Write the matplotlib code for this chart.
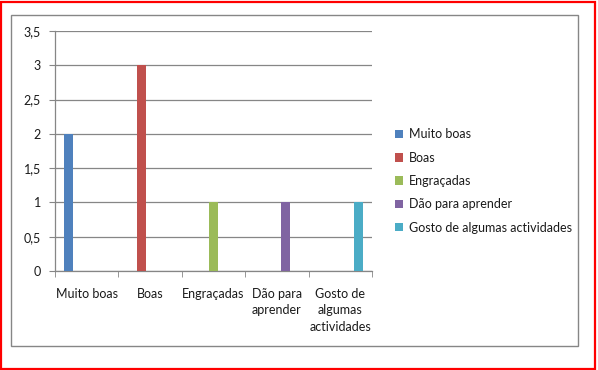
import matplotlib.pyplot as plt
from matplotlib.patches import Rectangle, Patch
import numpy as np

categories = ["Muito boas", "Boas", "Engraçadas", "Dão para\naprender",
              "Gosto de\nalgumas\nactividades"]
series_names = ["Muito boas", "Boas", "Engraçadas", "Dão para aprender",
                "Gosto de algumas actividades"]
series_values = [
    [2, 0, 0, 0, 0],
    [0, 3, 0, 0, 0],
    [0, 0, 1, 0, 0],
    [0, 0, 0, 1, 0],
    [0, 0, 0, 0, 1],
]
y_ticks = [0, 0.5, 1, 1.5, 2, 2.5, 3, 3.5]
y_labels = ["0", "0,5", "1", "1,5", "2", "2,5", "3", "3,5"]
colors = ["#4F81BD", "#C0504D", "#9BBB59", "#8064A2", "#4BACC6"]

plt.rcParams['font.family'] = ['Lato', 'DejaVu Sans']
W, H = 598, 370
fig = plt.figure(figsize=(W / 100, H / 100), dpi=100)
fs = 9
txt_c = "#1a1a1a"

# plot area in pixels
px_l, px_r, px_t, px_b = 55, 372, 31, 271
ax = fig.add_axes([px_l / W, 1 - px_b / H, (px_r - px_l) / W, (px_b - px_t) / H])

x = np.arange(len(categories))
w = 1 / 7  # gap width 200 %
for i, (name, vals) in enumerate(zip(series_names, series_values)):
    ax.bar(x + (i - 2) * w, vals, width=w, color=colors[i], linewidth=0, zorder=3)

grid_c = "#868686"
ax.set_xlim(-0.5, len(categories) - 0.5)
ax.set_ylim(0, 3.5)
ax.set_yticks(y_ticks)
ax.set_yticklabels(y_labels, fontsize=fs, color=txt_c)
ax.yaxis.grid(True, color=grid_c, linewidth=0.9, zorder=0)
ax.tick_params(axis='y', length=4, color=grid_c, pad=6)

ax.set_xticks(x)
ax.set_xticklabels(categories, fontsize=fs, color=txt_c, linespacing=1.45, va='top')
ax.tick_params(axis='x', which='major', length=0, pad=12)
ax.set_xticks(np.arange(len(categories) + 1) - 0.5, minor=True)
ax.tick_params(axis='x', which='minor', length=4, color=grid_c)

for s in ['top', 'right']:
    ax.spines[s].set_visible(False)
for s in ['left', 'bottom']:
    ax.spines[s].set_color(grid_c)
    ax.spines[s].set_linewidth(0.9)

handles = [Patch(facecolor=c, edgecolor='none') for c in colors]
fig.legend(handles, series_names, loc='center left', bbox_to_anchor=(389 / W, 1 - 181 / H),
           frameon=False, fontsize=fs, handlelength=0.65, handleheight=0.65,
           handletextpad=0.45, labelspacing=0.9, borderpad=0, labelcolor=txt_c)

# chart area border
fig.patches.append(Rectangle((11 / W, 1 - 346 / H), 567 / W, 331 / H, transform=fig.transFigure,
                             fill=False, edgecolor=grid_c, linewidth=1))
# red outer border
fig.patches.append(Rectangle((1 / W, 1.5 / H), 594 / W, 367 / H, transform=fig.transFigure,
                             fill=False, edgecolor="#FF0000", linewidth=1.6))

fig.savefig("out.png", dpi=100)
